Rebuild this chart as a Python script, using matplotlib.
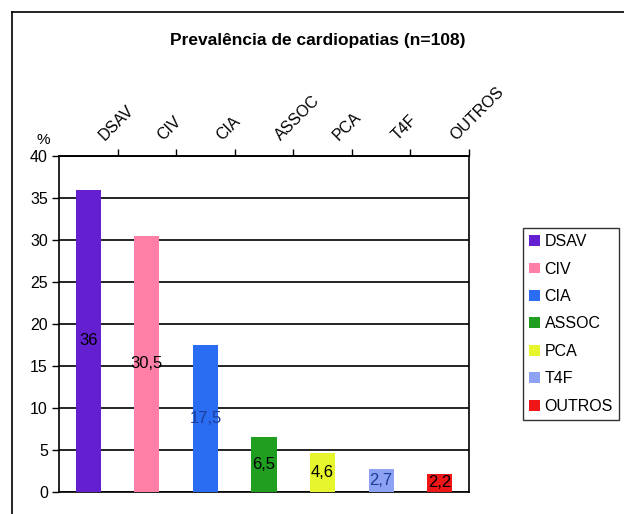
import numpy as np
import matplotlib.pyplot as plt
from matplotlib.lines import Line2D
from matplotlib.patches import Patch

categories = ['DSAV', 'CIV', 'CIA', 'ASSOC', 'PCA', 'T4F', 'OUTROS']
values = [36, 30.5, 17.5, 6.5, 4.6, 2.7, 2.2]
value_labels = ['36', '30,5', '17,5', '6,5', '4,6', '2,7', '2,2']
colors = ['#6420d0', '#ff7fa6', '#2a6cf2', '#1f9e1f', '#e6f52c', '#8ea2f4', '#ee1616']
label_colors = ['black', 'black', '#1c3d96', 'black', 'black', '#1c3d96', 'black']

plt.rcParams['font.family'] = ['Liberation Sans', 'DejaVu Sans']

fig = plt.figure(figsize=(6.24, 5.14), dpi=100)
ax = fig.add_axes([0.0946, 0.0428, 0.657, 0.6537])

x = np.arange(len(categories))
ax.bar(x, values, width=0.43, color=colors, zorder=3)
for xi, v, lab, c in zip(x, values, value_labels, label_colors):
    ax.text(xi, v / 2, lab, ha='center', va='center', fontsize=12, color=c, zorder=4)

ax.set_xlim(-0.5, len(categories) - 0.5)
ax.set_ylim(0, 40)
ax.set_yticks(np.arange(0, 41, 5))
ax.tick_params(axis='y', labelsize=11.5, length=5, width=1, direction='out', pad=3)
ax.yaxis.grid(True, color='black', linewidth=1.2, zorder=1)
ax.set_axisbelow(True)

# category ticks on the top, between categories
ax.set_xticks([])
top = ax.secondary_xaxis('top')
top.set_xticks(np.arange(len(categories)) + 0.5)
top.set_xticklabels([])
top.tick_params(length=5, width=1, direction='out')
for xi, name in zip(x, categories):
    ax.annotate(name, (xi, 40), xytext=(12, 11), textcoords='offset points',
                rotation=45, ha='left', va='baseline', rotation_mode='anchor',
                fontsize=11.5, annotation_clip=False)

for s in ax.spines.values():
    s.set_color('black')
    s.set_linewidth(1.2)
top.spines['top'].set_linewidth(1.2)

fig.text(0.07, 0.728, '%', fontsize=11, ha='center', va='center')
fig.text(0.51, 0.922, 'Prevalência de cardiopatias (n=108)', fontsize=12.5,
         fontweight='bold', ha='center', va='center')

handles = [Patch(facecolor=c, edgecolor='none') for c in colors]
ax.legend(handles, categories, loc='upper left', bbox_to_anchor=(0.838, 0.557),
          bbox_transform=fig.transFigure, frameon=True, fancybox=False,
          edgecolor='black', fontsize=11.5, handlelength=0.66, handleheight=0.66,
          handletextpad=0.3, labelspacing=0.78, borderpad=0.4, borderaxespad=0)

# outer frame of the picture
fig.add_artist(Line2D([0.019, 0.019], [0.0, 0.977], color='black', linewidth=1.2))
fig.add_artist(Line2D([0.019, 1.0], [0.977, 0.977], color='black', linewidth=1.2))

fig.savefig('out.png', dpi=100)
